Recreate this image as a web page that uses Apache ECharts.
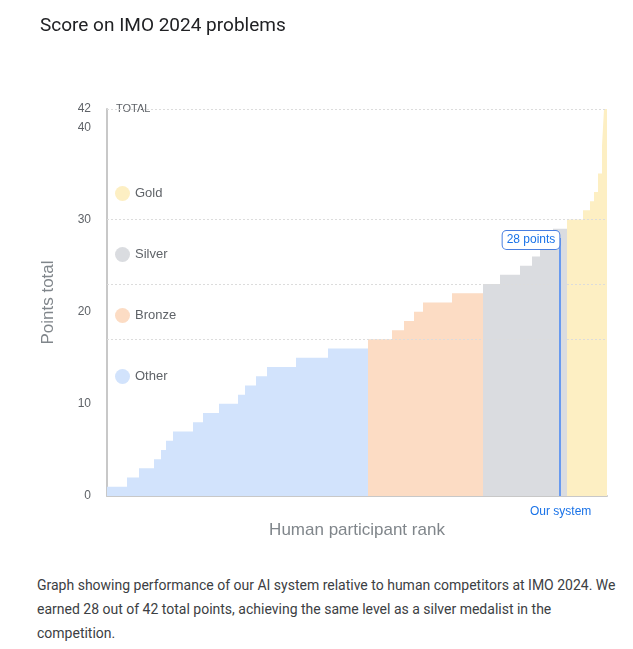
<!DOCTYPE html>
<html><head><meta charset="utf-8">
<script src="https://cdn.jsdelivr.net/npm/echarts@6/dist/echarts.min.js"></script>
<style>body{margin:0;background:#fff;font-family:Roboto,sans-serif}
#c{width:633px;height:560px}
#cap{position:absolute;left:37px;top:573px;width:592px;font-size:14px;line-height:24px;color:#3c4043}</style>
</head><body><div id="c"></div>
<div id="cap">Graph showing performance of our AI system relative to human competitors at IMO 2024. We earned 28 out of 42 total points, achieving the same level as a silver medalist in the competition.</div>
<script>
// step start positions (rank units) and scores
const otherX = [0,20,32,47,54,59,66,86,96,112,131,138,149,160,189,221,261];
const otherY = [1,2,3,4,5,6,7,8,9,10,11,12,13,14,15,16,16];
const bronzeX = [261,285,297,307,316,345,376];
const bronzeY = [17,18,19,20,21,22,22];
const silverX = [376,393,413,425,433,446,460];
const silverY = [23,24,25,26,27,29,29];
const goldX = [460,476,483,487,491,495,497,500];
const goldY = [30,31,32,33,35,38,42,42];
const ourRank = 453, ourScore = 28;
const yLabels = [0,10,20,30,40,42];
const cutoffs = [17,23,30,42];
const pts = (xs,ys)=>xs.map((x,i)=>[x,ys[i]]);
const mk = (name,color,xs,ys)=>({name,type:'line',step:'end',symbol:'none',
  lineStyle:{width:0},areaStyle:{color,opacity:1},itemStyle:{color},data:pts(xs,ys)});
const c = echarts.init(document.getElementById('c'));
const series = [mk('Gold','#fdefc3',goldX,goldY),mk('Silver','#dadce0',silverX,silverY),
  mk('Bronze','#fcdcc4',bronzeX,bronzeY),mk('Other','#d2e3fc',otherX,otherY)];
series.push({type:'line',data:[],silent:true,
  markLine:{symbol:'none',silent:true,label:{show:false},
    lineStyle:{color:'#dcdcdc',type:[2,2],width:1},data:cutoffs.map(v=>({yAxis:v}))}});
series.push({type:'line',data:[],silent:true,itemStyle:{color:'#4285f4'},
  markLine:{symbol:'none',silent:true,lineStyle:{color:'#4285f4',type:'solid',width:1.5,opacity:1},
    emphasis:{disabled:true},
    label:{show:false},data:[[{coord:[ourRank,0]},{coord:[ourRank,ourScore]}]]},
  markPoint:{symbol:'circle',symbolSize:0,data:[{coord:[ourRank,ourScore],
    label:{show:true,formatter:ourScore+' points',color:'#1a73e8',fontSize:12,
      backgroundColor:'#fff',borderColor:'#4a7fe0',borderWidth:1,borderRadius:4,
      padding:[3,4],offset:[-29,2]}}]}});
c.setOption({
  animation:false,
  title:{text:'Score on IMO 2024 problems',left:35,top:12,
    textStyle:{fontSize:19,fontWeight:'normal',color:'#202124',fontFamily:'Roboto'}},
  legend:{data:['Gold','Silver','Bronze','Other'],orient:'vertical',left:110,top:181,
    itemGap:46,icon:'circle',itemWidth:15,itemHeight:15,
    textStyle:{fontSize:13,color:'#5f6368'},selectedMode:false},
  grid:{left:107,right:26,top:109,bottom:64},
  xAxis:{type:'value',min:0,max:500,name:'Human participant rank',nameLocation:'middle',
    nameGap:26,nameTextStyle:{fontSize:17,color:'#80868b'},
    axisLine:{show:true,lineStyle:{color:'#c8c8c8',width:2}},axisTick:{show:false},
    axisLabel:{show:false},splitLine:{show:false}},
  yAxis:{type:'value',min:0,max:42,interval:2,name:'Points total',nameLocation:'middle',
    nameGap:50,nameTextStyle:{fontSize:17,color:'#80868b'},
    axisLine:{show:true,lineStyle:{color:'#c8c8c8',width:2}},axisTick:{show:false},
    axisLabel:{color:'#5f6368',fontSize:12,margin:16,formatter:v=>yLabels.includes(v)?v:''},
    splitLine:{show:false}},
  graphic:[{type:'text',left:116,top:103,style:{text:'TOTAL',fontSize:11,fill:'#5f6368'}},
    {type:'text',left:530,top:506,style:{text:'Our system',fontSize:12,fill:'#1a73e8'}}],
  series
});
</script></body></html>
